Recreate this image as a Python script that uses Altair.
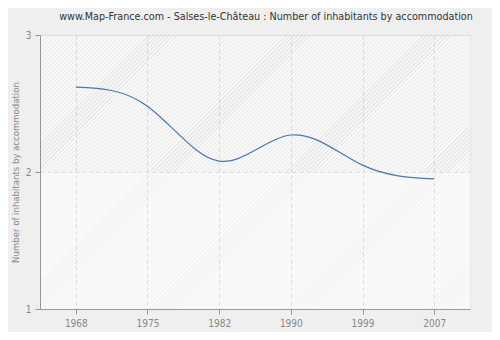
import altair as alt
import pandas as pd

years = ["1968", "1975", "1982", "1990", "1999", "2007"]
values = [2.62, 2.48, 2.08, 2.27, 2.05, 1.95]

df = pd.DataFrame({"year": years, "value": values})

FONT = "DejaVu Sans Condensed"
W, H = 430, 274
T = H / 2  # square hatch tile side


def hatch(bg, fg, n=68, frac=0.3):
    # diagonal "/" stripes through a linear gradient over a square tile
    stops = []
    for i in range(n):
        a = i / n
        b = (i + frac) / n
        c = (i + 1) / n
        stops += [alt.GradientStop(offset=a, color=fg), alt.GradientStop(offset=b, color=fg),
                  alt.GradientStop(offset=b, color=bg), alt.GradientStop(offset=c, color=bg)]
    return alt.LinearGradient(gradient="linear", stops=stops, x1=0, y1=0, x2=1, y2=1)


up_fill = hatch("rgba(0,0,0,0.012)", "rgba(0,0,0,0.075)")
lo_fill = hatch("rgba(0,0,0,0)", "rgba(0,0,0,0.035)")

tiles = []
for row, fill in ((0, up_fill), (1, lo_fill)):
    for col in range(4):
        tiles.append(
            alt.Chart(alt.Data(values=[{}])).mark_rect(fill=fill, clip=True).encode(
                x=alt.value(col * T), x2=alt.value((col + 1) * T),
                y=alt.value(row * T), y2=alt.value((row + 1) * T))
        )

xenc = alt.X("year:O", scale=alt.Scale(type="point", padding=0.5),
             axis=alt.Axis(title=None, labelAngle=0, grid=True, gridDash=[4, 3],
                           gridColor="#e0e0e0", tickSize=5, tickColor="#999",
                           domainColor="#999", labelColor="#888", labelFontSize=10,
                           labelFont=FONT, labelPadding=4))
yenc = alt.Y("value:Q", scale=alt.Scale(domain=[1, 3], nice=False, zero=False),
             axis=alt.Axis(title="Number of inhabitants by accommodation", tickCount=2,
                           format="d", grid=True, gridDash=[4, 3], gridColor="#e0e0e0",
                           tickSize=5, tickColor="#999", domainColor="#999",
                           labelColor="#888", labelFontSize=10, labelFont=FONT,
                           titleColor="#888", titleFontSize=9.5, titleFont=FONT,
                           titleFontWeight="normal", titlePadding=5, labelPadding=4,
                           labelOverlap=False))

line = alt.Chart(df).mark_line(
    interpolate="natural", color="#4a78b0", strokeWidth=1.2
).encode(x=xenc, y=yenc)

chart = alt.layer(*tiles, line).properties(
    width=W, height=H,
    title=alt.TitleParams(
        "www.Map-France.com - Salses-le-Château : Number of inhabitants by accommodation",
        font=FONT, fontSize=10.7, fontWeight="normal", color="#333",
        anchor="middle", dx=11, offset=7),
    autosize=alt.AutoSizeParams(type="none"),
    padding={"left": 32, "top": 27, "right": 22, "bottom": 23},
    background="#efefef",
).configure_view(stroke="#e6e6e6", fill="#fbfbfb")

chart.save("out.html", embed_options={"renderer": "svg", "actions": False})
